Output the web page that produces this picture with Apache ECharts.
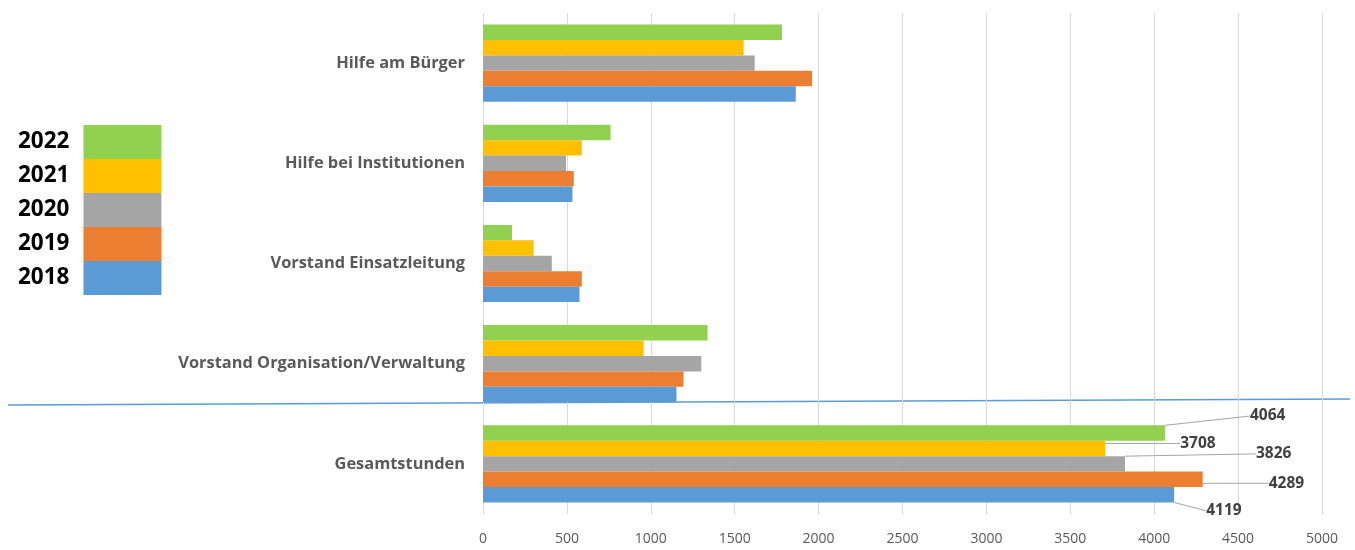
<!DOCTYPE html>
<html>
<head>
<meta charset="utf-8">
<script src="https://cdn.jsdelivr.net/npm/echarts@6/dist/echarts.min.js"></script>
<style>
html,body{margin:0;padding:0;background:#fff;}
#chart{width:1355px;height:550px;}
</style>
</head>
<body>
<div id="chart"></div>
<script>
// ---- data ----
var categories = ['Hilfe am Bürger', 'Hilfe bei Institutionen', 'Vorstand Einsatzleitung', 'Vorstand Organisation/Verwaltung', 'Gesamtstunden'];
var years = ['2022', '2021', '2020', '2019', '2018'];
var values2022 = [1782, 760, 173, 1338, 4064];
var values2021 = [1553, 589, 302, 957, 3708];
var values2020 = [1619, 495, 410, 1301, 3826];
var values2019 = [1961, 541, 589, 1195, 4289];
var values2018 = [1864, 533, 575, 1153, 4119];
var xTicks = [0, 500, 1000, 1500, 2000, 2500, 3000, 3500, 4000, 4500, 5000];
var labelledCategory = 'Gesamtstunden';

// ---- styles ----
var colors = ['#92d050', '#ffc000', '#a5a5a5', '#ed7d31', '#5b9bd5'];
// label offsets (dx, dy) for the total-hours labels, per year (same order as years)
var labelOffsets = [[80, -17], [70, -5], [126, -10], [61, 4], [27, 16]];

var allValues = [values2022, values2021, values2020, values2019, values2018];
var labelIdx = categories.indexOf(labelledCategory);

var series = years.map(function (y, si) {
  return {
    name: y,
    type: 'bar',
    barGap: '0%',
    barCategoryGap: '23%',
    itemStyle: { color: colors[si] },
    data: allValues[si].map(function (v, di) {
      var show = di === labelIdx;
      return {
        value: v,
        label: { show: show },
        labelLine: { show: show }
      };
    }),
    label: {
      position: 'right',
      distance: 5,
      fontFamily: 'Open Sans',
      fontSize: 15.5,
      fontWeight: 'bold',
      color: '#404040'
    },
    labelLine: {
      lineStyle: { color: '#a5a5a5', width: 1 }
    },
    labelLayout: function (p) {
      if (p.dataIndex !== labelIdx) return {};
      return { dx: labelOffsets[p.seriesIndex][0], dy: labelOffsets[p.seriesIndex][1] };
    },
    emphasis: { disabled: true }
  };
});

var chart = echarts.init(document.getElementById('chart'), null, { renderer: 'canvas' });
chart.setOption({
  animation: false,
  backgroundColor: '#fff',
  grid: { left: 483, right: 33, top: 13, bottom: 36, containLabel: false },
  legend: {
    data: years,
    orient: 'vertical',
    left: 18,
    top: 125,
    padding: 0,
    align: 'right',
    itemWidth: 78,
    itemHeight: 34,
    itemGap: 0,
    icon: 'rect',
    selectedMode: false,
    textStyle: {
      fontFamily: 'Open Sans',
      fontSize: 22.5,
      fontWeight: 'bold',
      color: '#000',
      padding: [0, 9, 0, 0]
    }
  },
  xAxis: {
    type: 'value',
    min: xTicks[0],
    max: xTicks[xTicks.length - 1],
    interval: xTicks[1] - xTicks[0],
    axisLine: { show: false },
    axisTick: { show: false },
    splitLine: { show: true, lineStyle: { color: '#d9d9d9', width: 1 } },
    axisLabel: {
      margin: 18,
      fontFamily: 'Open Sans',
      fontSize: 14,
      color: '#595959',
      formatter: function (v) { return String(v); }
    }
  },
  yAxis: {
    type: 'category',
    data: categories,
    inverse: true,
    axisLine: { show: false },
    axisTick: { show: false },
    axisLabel: {
      margin: 18,
      fontFamily: 'Open Sans',
      fontSize: 16.4,
      fontWeight: 'bold',
      color: '#595959'
    }
  },
  graphic: [{
    type: 'line',
    z: 0,
    shape: { x1: 8, y1: 405, x2: 1350, y2: 399 },
    style: { stroke: '#5b9bd5', lineWidth: 1.5 }
  }],
  series: series
});
</script>
</body>
</html>
